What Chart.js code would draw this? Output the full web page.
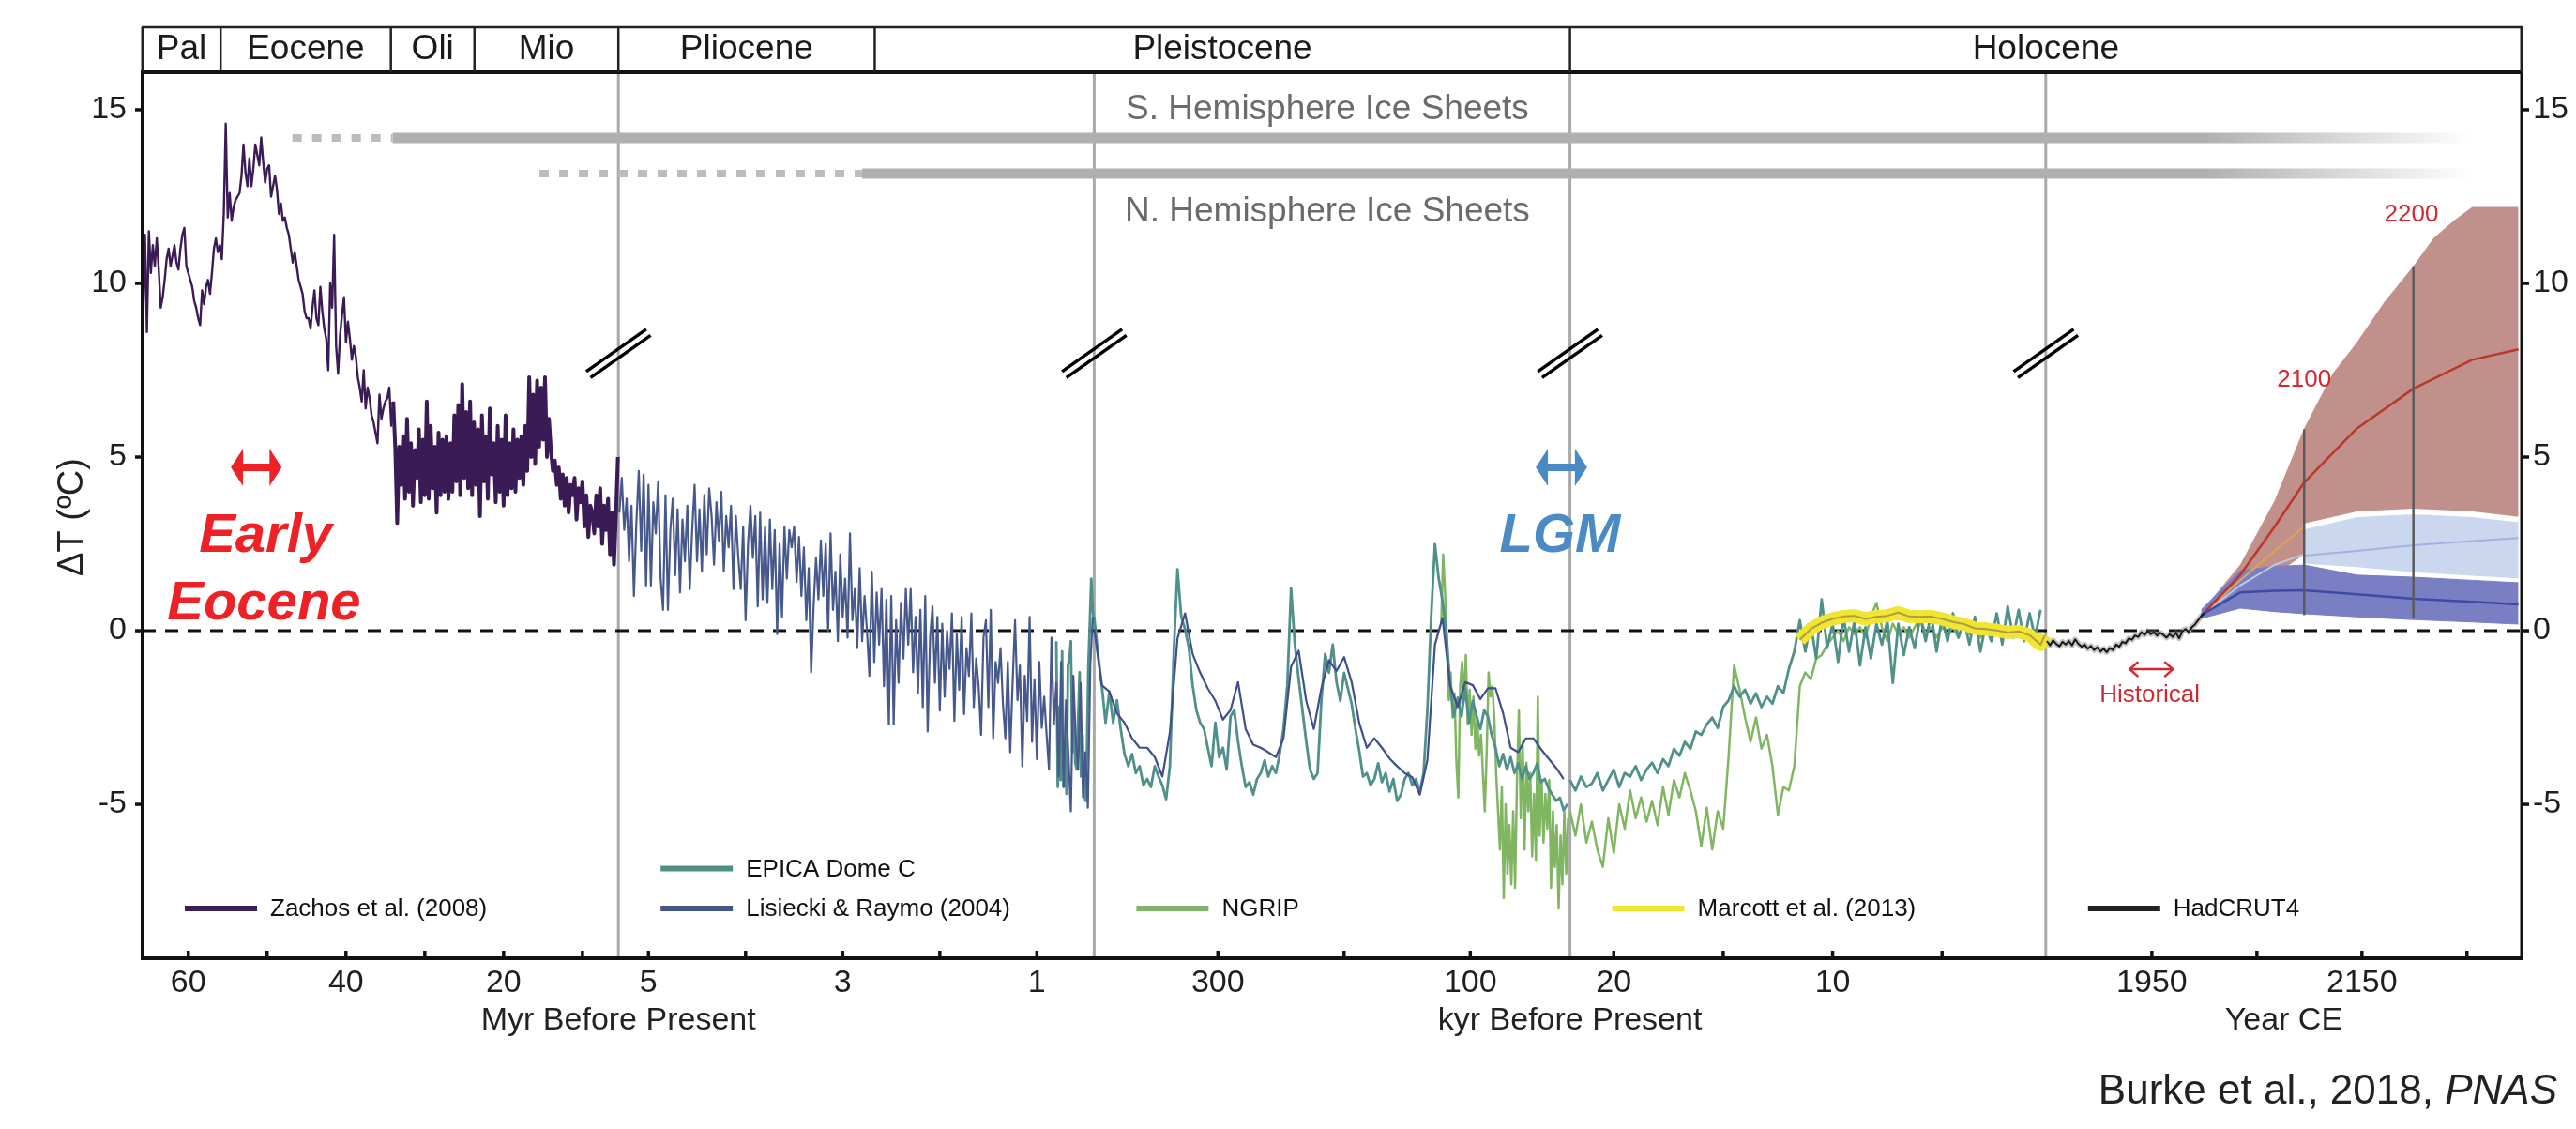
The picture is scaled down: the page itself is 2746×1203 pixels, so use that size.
<!DOCTYPE html>
<html>
<head>
<meta charset="utf-8">
<script src="https://cdn.jsdelivr.net/npm/chart.js@4.4.0/dist/chart.umd.min.js"></script>
<style>
  html, body { margin: 0; padding: 0; background: #fff; }
  #chart { display: block; }
</style>
</head>
<body>
<canvas id="chart" width="2746" height="1203"></canvas>
<script>
const FONT = "'Liberation Sans', Arial, Helvetica, sans-serif";

// each panel has its own native unit: Myr, Myr, kyr, kyr, year CE  ([left, right])
const panelRanges = [ [ 65.8, 5.44 ], [ 5.31, 0.41 ], [ 398, 21 ], [ 22, 0.26 ], [ 1849, 2302 ] ];

const majorTicks = [ [ 0, 60 ], [ 0, 40 ], [ 0, 20 ], [ 1, 5 ], [ 1, 3 ], [ 1, 1 ], [ 2, 300 ], [ 2, 100 ], [ 3, 20 ], [ 3, 10 ], [ 4, 1950 ], [ 4, 2150 ] ];
const minorTicks = [ [ 0, 50 ], [ 0, 30 ], [ 0, 10 ], [ 1, 4 ], [ 1, 2 ], [ 2, 200 ], [ 3, 15 ], [ 3, 5 ], [ 4, 2050 ], [ 4, 2250 ] ];
const yTicks = [ -5, 0, 5, 10, 15 ];

const epochNames = [ "Pal", "Eocene", "Oli", "Mio", "Pliocene", "Pleistocene", "Holocene" ];
const epochEdges = [ [ 0, 65.8 ], [ 0, 55.9 ], [ 0, 34.3 ], [ 0, 23.7 ], [ 1, 5.31 ], [ 1, 2.67 ], [ 3, 22 ], [ 4, 2302 ] ];

const axisTitles = [ [ "Myr Before Present", 1 ], [ "kyr Before Present", 3 ], [ "Year CE", 4.5 ] ];

// Zachos et al. (2008), Myr, 65.75 -> 5.5 every 0.25
const zachosStart = 65.75, zachosStep = -0.25;
const zachosTemp = [
  9.0, 11.4, 8.6, 11.5, 10.3, 11.1, 10.5, 11.3, 10.4, 9.3, 9.6, 10.1,
  10.7, 11.0, 10.5, 10.8, 11.1, 10.6, 10.4, 11.0, 11.4, 11.6, 10.5, 10.3,
  10.1, 9.9, 9.5, 9.3, 9.0, 8.8, 9.8, 9.4, 9.9, 10.1, 9.7, 10.3,
  11.0, 11.3, 10.9, 11.1, 10.7, 12.0, 14.6, 11.9, 12.6, 11.8, 12.2, 12.4,
  12.5, 12.6, 13.1, 14.0, 13.2, 12.8, 13.6, 12.8, 13.3, 14.0, 13.7, 13.4,
  14.2, 13.5, 12.9, 13.3, 13.4, 12.5, 12.8, 13.1, 12.7, 12.0, 12.3, 11.8,
  11.9, 11.6, 11.4, 11.0, 10.6, 10.9, 10.5, 10.1, 9.9, 9.7, 9.2, 9.0,
  9.0, 8.7, 9.3, 9.8, 9.0, 8.8, 9.9, 9.2, 8.7, 8.4, 7.5, 10.0,
  9.3, 11.4, 8.2, 7.4, 8.5, 9.1, 9.6, 8.3, 8.9, 8.4, 7.8, 8.2,
  7.9, 7.3, 7.0, 6.6, 7.5, 6.4, 7.0, 6.7, 6.2, 6.0, 5.7, 5.4,
  6.8, 6.1, 6.4, 6.6, 6.7, 7.0, 5.9, 6.6, 5.3, 3.1, 5.3, 4.2,
  5.6, 3.8, 6.1, 4.0, 5.4, 3.6, 5.2, 4.4, 5.8, 3.7, 5.5, 3.9,
  6.6, 3.8, 5.9, 4.1, 5.3, 3.4, 5.7, 3.9, 5.5, 4.0, 5.6, 3.8,
  5.4, 4.0, 6.2, 4.3, 6.5, 3.9, 7.1, 4.4, 6.3, 4.1, 6.6, 3.9,
  6.0, 4.2, 5.8, 3.3, 6.2, 4.3, 5.6, 3.8, 6.4, 4.5, 5.4, 3.7,
  5.9, 4.0, 5.5, 3.6, 6.2, 3.9, 5.4, 4.1, 5.8, 4.0, 5.5, 4.4,
  5.6, 4.2, 5.9, 4.6, 7.3, 5.0, 6.8, 4.8, 7.2, 5.3, 7.0, 5.5,
  7.3, 5.0, 6.1, 5.2, 4.6, 4.9, 4.2, 4.7, 3.8, 4.5, 3.6, 4.4,
  3.4, 4.2, 3.9, 4.4, 3.2, 4.1, 3.7, 4.3, 3.0, 3.9, 2.7, 3.6,
  3.4, 2.8, 3.9, 3.0, 4.1, 2.5, 3.6, 2.9, 3.8, 2.2, 3.4, 1.9, 3.3, 5.0
];
const zachosDenseFrom = 34.0; // Myr: record drawn heavier (dense sampling) after this age

// Lisiecki & Raymo (2004), Myr 5.3 -> 0.425 every 0.025
const lr04MyrStart = 5.3, lr04MyrStep = -0.025;
const lr04MyrTemp = [
  3.4, 4.4, 2.9, 3.8, 2.0, 3.6, 1.0, 3.1, 4.6, 2.3, 4.5, 1.3,
  4.2, 1.3, 3.7, 2.8, 4.3, 1.5, 0.6, 3.9, 0.6, 2.9, 3.8, 1.6,
  3.5, 1.1, 3.2, 2.0, 3.6, 1.2, 2.9, 4.2, 2.0, 3.5, 1.7, 3.9,
  2.2, 4.1, 3.3, 1.9, 3.7, 2.6, 4.0, 1.7, 3.3, 2.4, 3.6, 1.2,
  3.3, 2.1, 1.2, 3.0, 0.3, 2.5, 3.6, 2.1, 3.3, 0.7, 3.4, 0.9,
  3.0, 0.8, 3.2, 1.2, 2.9, -0.1, 2.5, 0.4, 3.0, 1.5, 2.9, 2.4,
  3.0, 1.4, 2.7, 1.0, 2.4, 0.3, 1.8, -1.2, 0.7, 2.1, 0.9, 2.6,
  1.0, 2.5, 0.0, 2.8, 0.6, 1.7, -0.3, 2.2, 0.4, 1.5, -0.2, 2.8,
  0.3, 1.2, -0.5, 1.8, -0.3, 1.0, 0.0, -1.3, 1.7, -0.9, 1.1, -0.4,
  1.2, -1.6, 0.9, -2.7, 1.0, -2.7, 0.3, -1.5, 0.8, -0.8, 1.2, -0.4,
  1.2, -1.2, 0.4, -1.8, 0.6, -2.2, 1.0, -2.9, -0.2, 0.7, -1.5, 0.4,
  -2.3, 0.2, -1.9, 0.0, -1.1, 0.5, -2.6, -0.1, -1.7, 0.4, -2.4, -0.5,
  -1.3, 0.5, -2.2, -0.8, -1.6, -3.0, -0.2, 0.3, -2.2, 0.6, -3.1, -0.9,
  -1.5, -0.5, -2.1, -3.1, -0.9, -3.5, -1.5, 0.3, -2.0, -1.0, -3.9, -1.3,
  -2.6, 0.4, -3.2, -1.4, -3.7, -0.9, -2.8, -1.9, -3.0, -4.0, -0.2, -2.7,
  -1.5, -4.2, -0.9, -4.5, -2.0, -3.6, -5.2, -1.3, -3.1, -4.0, -1.5, -4.8,
  -3.5, -5.1, -1.0, 0.4
];

// Lisiecki & Raymo (2004), kyr 398 -> 26 every 6
const lr04KyrStart = 398, lr04KyrStep = -6;
const lr04KyrTemp = [
  0.05, -1.57, -1.75, -2.38, -2.65, -3.1, -3.37, -3.37, -3.64, -4.2, -2.92, -0.22,
  0.5, -0.67, -1.21, -1.66, -2.02, -2.56, -2.29, -1.48, -2.83, -3.28, -3.37, -3.5,
  -3.64, -3.1, -1.03, -0.58, -2.02, -2.83, -1.66, -0.85, -1.16, -0.76, -1.48, -2.65,
  -3.37, -3.1, -3.37, -3.68, -3.9, -4.1, -4.22, -4.72, -3.73, -0.4, 0.37, -1.57,
  -2.2, -1.48, -1.57, -1.97, -1.66, -1.66, -2.38, -3.37, -3.5, -3.1, -3.1, -3.41,
  -3.68, -3.95, -4.27
];

// EPICA Dome C: Myr 0.8 -> 0.41 every 0.015, kyr 398 -> 23 every 3, kyr 22 -> 0.5 every 0.25
const epicaMyrStart = 0.8, epicaMyrStep = -0.015;
const epicaMyrTemp = [
  -0.3, -4.5, -2.2, -4.3, -0.6, -4.5, -3.1, -4.7, -1.0, -0.8, -0.3, -3.5,
  -2.3, -3.8, -4.0, -2.5, -1.2, -4.2, -3.0, -4.6, -4.9, -3.5, -1.0, 0.2, 1.5, 0.6, 0.2
];
const epicaKyrStart = 398, epicaKyrStep = -3;
const epicaKyrTemp = [
  0.4, -0.67, -1.57, -2.65, -1.75, -2.65, -2.0, -2.83, -3.55, -3.9, -3.55, -4.1,
  -3.9, -4.45, -4.27, -4.5, -3.9, -4.2, -4.45, -4.85, -3.9, -0.67, 1.77, 0.4,
  0.05, -0.49, -1.57, -2.29, -2.65, -2.83, -3.37, -3.9, -2.65, -3.64, -3.37, -4.0,
  -2.47, -2.29, -3.19, -3.9, -4.5, -4.36, -4.72, -4.27, -4.1, -3.73, -4.2, -3.9,
  -4.1, -3.55, -2.83, -1.57, 1.22, -0.4, -1.39, -2.29, -3.19, -4.0, -4.27, -4.1,
  -2.02, -0.67, -1.21, -0.4, -1.48, -2.02, -1.21, -1.66, -2.11, -2.83, -3.46, -4.2,
  -4.1, -4.45, -4.27, -3.82, -4.36, -4.1, -4.63, -4.27, -4.9, -4.72, -4.27, -4.1,
  -4.45, -4.27, -4.63, -4.1, -2.29, 0.4, 2.49, 1.5, 0.86, -0.04, -1.57, -2.47,
  -1.93, -2.47, -1.66, -2.65, -2.02, -2.47, -2.83, -2.29, -2.47, -3.01, -3.37, -3.9,
  -3.55, -4.0, -3.64, -4.1, -3.82, -4.27, -3.9, -4.27, -4.1, -3.82, -4.36, -4.27,
  -4.54, -4.72, -4.9, -4.81, -5.17, -4.99
];
const epicaHoloStart = 22, epicaHoloStep = -0.25;
const epicaHoloTemp = [
  -4.3, -4.6, -4.2, -4.5, -4.4, -4.1, -4.6, -4.3, -4.0, -4.5, -4.1, -4.2,
  -3.9, -4.3, -4.0, -3.8, -4.1, -3.7, -3.9, -3.4, -3.6, -3.2, -3.4, -2.9,
  -3.0, -2.7, -2.5, -2.8, -2.2, -2.0, -1.6, -1.9, -1.7, -2.1, -1.8, -2.2,
  -1.9, -2.1, -1.6, -1.8, -1.1, -0.6, 0.3, -0.6, 0.2, -0.8, 0.9, -0.5,
  0.2, -0.9, 0.4, -0.6, 0.3, -1.0, 0.1, -0.8, 0.2, -0.4, 0.3, -1.5,
  0.2, -0.7, 0.1, -0.5, 0.4, -0.3, 0.5, -0.6, 0.4, -0.3, 0.5, -0.2,
  0.3, -0.4, 0.4, -0.6, 0.2, -0.3, 0.5, -0.4, 0.7, -0.2, 0.6, -0.3,
  0.5, -0.2, 0.6
];

// NGRIP: kyr 123 -> 22.5 every 1.5, kyr 22 -> 2 every 0.25
const ngripKyrStart = 123, ngripKyrStep = -1.5;
const ngripKyrTemp = [
  0.2, 2.2, 1.1, -0.2, -2.0, -1.2, -2.5, -1.8, -3.8, -4.8, -1.6, -0.9,
  -2.0, -0.7, -2.7, -1.7, -3.0, -1.9, -3.4, -2.5, -3.6, -3.0, -4.1, -5.2,
  -3.5, -1.2, -1.9, -1.6, -2.5, -4.1, -5.2, -6.3, -4.5, -7.7, -5.0, -7.0,
  -5.6, -7.3, -5.2, -7.4, -4.3, -2.3, -5.4, -3.2, -6.3, -3.8, -5.2, -4.1,
  -6.5, -4.7, -6.6, -1.9, -5.9, -4.3, -6.1, -4.7, -5.7, -4.3, -7.4, -5.2,
  -6.8, -5.6, -8.0, -5.9, -7.3, -5.2, -7.0, -5.4
];
const ngripHoloStart = 22, ngripHoloStep = -0.25;
const ngripHoloTemp = [
  -5.2, -5.9, -5.0, -6.1, -5.5, -6.3, -6.8, -5.4, -6.4, -5.0, -5.7, -4.6,
  -5.4, -4.8, -5.5, -4.9, -5.6, -4.5, -5.3, -4.3, -4.8, -4.1, -4.6, -5.2,
  -6.2, -5.1, -6.3, -5.2, -5.7, -3.6, -1.0, -1.7, -2.5, -3.2, -2.5, -3.4,
  -3.0, -3.9, -5.3, -4.5, -4.6, -3.9, -1.6, -1.2, -1.4, -0.8, -0.7, -0.4,
  -0.2, 0.0, -0.3, 0.1, -0.1, 0.1, -0.2, 0.4, 0.8, 0.1, -0.3, 0.2,
  -0.1, 0.1, -0.2, 0.1, 0.4, -0.1, 0.1, -0.2, 0.1, -0.1, 0.1, -0.2,
  0.2, -0.1, 0.3, -0.2, 0.1, -0.3, 0.1, -0.1, 0.1
];

// Marcott et al. (2013), kyr BP
const marcottAge = [ 11.5, 11, 10.5, 10, 9.5, 9, 8.5, 8, 7.5, 7, 6.5, 6, 5.5, 5, 4.5, 4, 3.5, 3, 2.5, 2, 1.5, 1, 0.5, 0.3 ];
const marcottTemp = [ -0.26, 0.05, 0.23, 0.34, 0.41, 0.43, 0.34, 0.40, 0.43, 0.52, 0.41, 0.40, 0.41, 0.34, 0.25, 0.19, 0.07, 0.05, 0.01, -0.05, -0.02, -0.13, -0.40, -0.13 ];

// HadCRUT4, 1850 -> 2000 every 3 years
const hadStart = 1850, hadStep = 3;
const hadTemp = [
  -0.30, -0.42, -0.28, -0.38, -0.45, -0.32, -0.40, -0.30, -0.42, -0.25, -0.38, -0.46,
  -0.40, -0.52, -0.44, -0.56, -0.48, -0.60, -0.52, -0.62, -0.50, -0.56, -0.40, -0.46,
  -0.32, -0.36, -0.22, -0.26, -0.14, -0.18, -0.04, -0.12, -0.02, -0.10, -0.05, -0.14,
  -0.06, -0.12, -0.20, -0.10, -0.18, -0.06, -0.22, -0.02, 0.05, -0.04, 0.10, 0.18,
  0.30, 0.42, 0.50
];

// projections (year CE)
const redYears = [ 1997, 2034, 2067, 2095, 2122, 2145, 2171, 2199, 2218, 2237, 2255, 2299 ];
const redUpper = [ 0.55, 1.9, 3.76, 5.83, 7.4, 8.3, 9.45, 10.5, 11.3, 11.8, 12.2, 12.2 ];
const redLower = [ 0.45, 1.0, 1.6, 2.2, 2.4, 2.6, 2.7, 2.8, 2.9, 2.95, 3.0, 3.1 ];
const projYears = [ 1997, 2034, 2067, 2095, 2145, 2199, 2255, 2299 ];
const redMedian = [ 0.43, 1.6, 3.0, 4.27, 5.82, 6.97, 7.8, 8.1 ];
const darkUpper = [ 0.6, 1.73, 1.85, 1.89, 1.6, 1.54, 1.45, 1.38 ];
const darkLower = [ 0.35, 0.65, 0.55, 0.49, 0.4, 0.32, 0.25, 0.19 ];
const darkMedian = [ 0.45, 1.1, 1.15, 1.16, 1.05, 0.92, 0.83, 0.76 ];
const lightYears = [ 2095, 2145, 2199, 2255, 2299 ];
const lightUpper = [ 3.0, 3.35, 3.43, 3.35, 3.2 ];
const lightLower = [ 1.85, 1.75, 1.6, 1.5, 1.43 ];
const lightMedian = [ 2.16, 2.3, 2.46, 2.58, 2.67 ];
const wedgeYears = [ 1997, 2034, 2067, 2095 ];
const wedgeOrange = [ 0.45, 1.45, 2.3, 3.0 ];
const wedgePale = [ 0.45, 1.3, 1.9, 2.2 ];
const markYears = [ 2095, 2199 ];
const markLow = [ 0.45, 0.35 ];
const markHigh = [ 5.8, 10.5 ];

// ice sheet bars: [S, N]
const iceLevels = [ 14.19, 13.16 ];
const iceDotStart = [ [ 0, 46.8 ], [ 0, 15.46 ] ];
const iceSolidStart = [ [ 0, 34.07 ], [ 1, 2.8 ] ];
const iceFadeYears = [ 1999, 2256 ];
const iceGrey = "#b0b0b0";

const legendItems = [
  [ "Zachos et al. (2008)", "#3d1d57", 0, -8.0 ],
  [ "EPICA Dome C", "#4e8f88", 1, -6.85 ],
  [ "Lisiecki & Raymo (2004)", "#44578d", 1, -8.0 ],
  [ "NGRIP", "#7fb566", 2, -8.0 ],
  [ "Marcott et al. (2013)", "#f2e52f", 3, -8.0 ],
  [ "HadCRUT4", "#222222", 4, -8.0 ]
];

function toX ( panel, v ) {
  const [ a, b ] = panelRanges[ panel ];
  return panel + ( v - a ) / ( b - a );
}
function series ( panel, start, step, values ) {
  return values.map( ( y, i ) => ( { x: toX( panel, start + step * i ), y } ) );
}
function pairs ( panel, xs, ys ) {
  return xs.map( ( v, i ) => ( { x: toX( panel, v ), y: ys[ i ] } ) );
}
function lineSet ( label, data, color, width, order, extra ) {
  return Object.assign( {
    label, data, borderColor: color, backgroundColor: color, borderWidth: width,
    pointRadius: 0, fill: false, tension: 0, order, borderJoinStyle: "round"
  }, extra || {} );
}
function iceGradient ( context ) {
  const chart = context.chart;
  const xs = chart.scales.x;
  if ( !chart.chartArea || !xs ) return iceGrey;
  const g = chart.ctx.createLinearGradient(
    xs.getPixelForValue( toX( 4, iceFadeYears[ 0 ] ) ), 0,
    xs.getPixelForValue( toX( 4, iceFadeYears[ 1 ] ) ), 0 );
  g.addColorStop( 0, iceGrey );
  g.addColorStop( 1, "rgba(176,176,176,0)" );
  return g;
}

const datasets = [];
iceLevels.forEach( ( lvl, i ) => {
  const s = toX( ...iceSolidStart[ i ] );
  datasets.push( lineSet( "ice dotted " + i, [ { x: toX( ...iceDotStart[ i ] ), y: lvl }, { x: s, y: lvl } ], "#bcbcbc", 8, 30,
    { borderDash: [ 10, 11 ], borderCapStyle: "butt" } ) );
  datasets.push( lineSet( "ice " + i, [ { x: s, y: lvl }, { x: toX( 4, iceFadeYears[ 1 ] ), y: lvl } ], iceGradient, 11, 30,
    { borderCapStyle: "butt" } ) );
} );

// projection bands (upper fills to the next dataset)
datasets.push( lineSet( "red upper", pairs( 4, redYears, redUpper ), "#c2908b", 0, 22, { fill: "+1", backgroundColor: "#c2908b" } ) );
datasets.push( lineSet( "red lower", pairs( 4, redYears, redLower ), "#c2908b", 0, 21 ) );
datasets.push( lineSet( "light upper", pairs( 4, lightYears, lightUpper ), "#ffffff", 6, 20, { fill: "+1", backgroundColor: "#cad7ee" } ) );
datasets.push( lineSet( "light lower", pairs( 4, lightYears, lightLower ), "#ffffff", 6, 19 ) );
datasets.push( lineSet( "dark upper", pairs( 4, projYears, darkUpper ), "#7a7ec3", 1, 18, { fill: "+1", backgroundColor: "#7a7ec3" } ) );
datasets.push( lineSet( "dark lower", pairs( 4, projYears, darkLower ), "#7a7ec3", 1, 17 ) );
datasets.push( lineSet( "wedge orange", pairs( 4, wedgeYears, wedgeOrange ), "#e4a24f", 2, 16 ) );
datasets.push( lineSet( "wedge pale", pairs( 4, wedgeYears, wedgePale ), "#b9c9e8", 2, 16 ) );
datasets.push( lineSet( "light median", pairs( 4, lightYears, lightMedian ), "#a4b3dd", 2, 15 ) );
datasets.push( lineSet( "dark median", pairs( 4, projYears, darkMedian ), "#3f4aa6", 2.5, 15 ) );
datasets.push( lineSet( "red median", pairs( 4, projYears, redMedian ), "#b8392c", 2.5, 15 ) );
markYears.forEach( ( yr, i ) => {
  datasets.push( lineSet( "mark " + i, pairs( 4, [ yr, yr ], [ markLow[ i ], markHigh[ i ] ] ), "#5a5a5a", 2.5, 14 ) );
} );

// paleo records
datasets.push( lineSet( "NGRIP", series( 2, ngripKyrStart, ngripKyrStep, ngripKyrTemp ), "#80b662", 2.5, 12 ) );
datasets.push( lineSet( "NGRIP holo", series( 3, ngripHoloStart, ngripHoloStep, ngripHoloTemp ), "#80b662", 2.5, 12 ) );
datasets.push( lineSet( "EPICA myr", series( 1, epicaMyrStart, epicaMyrStep, epicaMyrTemp ), "#50908a", 2.8, 11 ) );
datasets.push( lineSet( "EPICA", series( 2, epicaKyrStart, epicaKyrStep, epicaKyrTemp ), "#50908a", 2.8, 11 ) );
datasets.push( lineSet( "EPICA holo", series( 3, epicaHoloStart, epicaHoloStep, epicaHoloTemp ), "#50908a", 2.8, 11 ) );
datasets.push( lineSet( "LR04 myr", series( 1, lr04MyrStart, lr04MyrStep, lr04MyrTemp ), "#46588c", 2.2, 10 ) );
datasets.push( lineSet( "LR04", series( 2, lr04KyrStart, lr04KyrStep, lr04KyrTemp ), "#3e4e8e", 2.2, 9 ) );
datasets.push( lineSet( "Zachos", series( 0, zachosStart, zachosStep, zachosTemp ), "#3b1b55", 2.4, 10, {
  segment: { borderWidth: c => ( c.p0.parsed.x >= toX( 0, zachosDenseFrom ) ? 4 : 2.4 ) }
} ) );
datasets.push( lineSet( "Marcott band", pairs( 3, marcottAge, marcottTemp ), "#f2e531", 14, 8 ) );
datasets.push( lineSet( "Marcott", pairs( 3, marcottAge, marcottTemp ), "#a89f45", 2, 7 ) );
datasets.push( lineSet( "HadCRUT halo", series( 4, hadStart, hadStep, hadTemp ), "rgba(110,110,110,0.4)", 6, 8 ) );
datasets.push( lineSet( "HadCRUT4", series( 4, hadStart, hadStep, hadTemp ), "#161616", 2, 7 ) );

function strokeLine ( ctx, x1, y1, x2, y2 ) {
  ctx.beginPath(); ctx.moveTo( x1, y1 ); ctx.lineTo( x2, y2 ); ctx.stroke();
}
function fatArrow ( ctx, x1, x2, yy, color ) {
  const head = 13, half = 20, shaft = 4;
  ctx.fillStyle = color;
  ctx.beginPath();
  ctx.moveTo( x1, yy ); ctx.lineTo( x1 + head, yy - half ); ctx.lineTo( x1 + head, yy - shaft );
  ctx.lineTo( x2 - head, yy - shaft ); ctx.lineTo( x2 - head, yy - half ); ctx.lineTo( x2, yy );
  ctx.lineTo( x2 - head, yy + half ); ctx.lineTo( x2 - head, yy + shaft ); ctx.lineTo( x1 + head, yy + shaft );
  ctx.lineTo( x1 + head, yy + half ); ctx.closePath(); ctx.fill();
}
function thinArrow ( ctx, x1, x2, yy, color ) {
  ctx.strokeStyle = color; ctx.lineWidth = 2.5;
  strokeLine( ctx, x1, yy, x2, yy );
  ctx.beginPath();
  ctx.moveTo( x1 + 9, yy - 8 ); ctx.lineTo( x1, yy ); ctx.lineTo( x1 + 9, yy + 8 );
  ctx.moveTo( x2 - 9, yy - 8 ); ctx.lineTo( x2, yy ); ctx.lineTo( x2 - 9, yy + 8 );
  ctx.stroke();
}

const decor = {
  id: "decor",
  beforeDatasetsDraw ( chart ) {
    const { ctx, chartArea: a, scales: { x, y } } = chart;
    ctx.save();
    ctx.strokeStyle = "#a9a9a9"; ctx.lineWidth = 3;
    [ 1, 2, 3, 4 ].forEach( p => { const px = x.getPixelForValue( p ); strokeLine( ctx, px, a.top, px, a.bottom ); } );
    ctx.setLineDash( [ 14, 10 ] ); ctx.strokeStyle = "#111"; ctx.lineWidth = 3;
    const y0 = y.getPixelForValue( 0 );
    strokeLine( ctx, a.left, y0, a.right, y0 );
    ctx.restore();
  },
  afterDraw ( chart ) {
    const { ctx, chartArea: a, scales: { x, y } } = chart;
    ctx.save();

    // break marks at panel joins
    ctx.strokeStyle = "#000"; ctx.lineWidth = 3.5;
    const by = y.getPixelForValue( 7.97 );
    [ 1, 2, 3, 4 ].forEach( p => {
      const px = x.getPixelForValue( p );
      [ -1, 1 ].forEach( s => strokeLine( ctx, px - 32 + s * 2.3, by + 22 + s * 3.2, px + 32 + s * 2.3, by - 23 + s * 3.2 ) );
    } );

    // frame
    ctx.strokeStyle = "#111";
    ctx.lineWidth = 4; strokeLine( ctx, a.left, a.top - 2, a.left, a.bottom + 2 );
    strokeLine( ctx, a.left - 2, a.bottom, a.right + 2, a.bottom );
    strokeLine( ctx, a.left, a.top, a.right, a.top );
    ctx.lineWidth = 3; strokeLine( ctx, a.right, a.top, a.right, a.bottom );

    // ticks
    ctx.lineWidth = 3.5;
    majorTicks.concat( minorTicks ).forEach( ( [ p, v ] ) => {
      const px = x.getPixelForValue( toX( p, v ) );
      strokeLine( ctx, px, a.bottom, px, a.bottom - 8 );
    } );
    yTicks.forEach( v => {
      const py = y.getPixelForValue( v );
      strokeLine( ctx, a.left - 8, py, a.left, py );
      strokeLine( ctx, a.right, py, a.right + 8, py );
    } );

    // epoch header
    const hTop = 29;
    ctx.strokeStyle = "#222"; ctx.lineWidth = 2.5;
    strokeLine( ctx, a.left - 1, hTop, a.right + 1, hTop );
    const ex = epochEdges.map( e => x.getPixelForValue( toX( e[ 0 ], e[ 1 ] ) ) );
    ex.forEach( ( px, i ) => {
      ctx.lineWidth = ( i === 0 || i === ex.length - 1 ) ? 3 : 2.5;
      strokeLine( ctx, px, hTop, px, a.top );
    } );
    ctx.fillStyle = "#1a1a1a"; ctx.font = "37px " + FONT; ctx.textAlign = "center"; ctx.textBaseline = "alphabetic";
    epochNames.forEach( ( n, i ) => ctx.fillText( n, ( ex[ i ] + ex[ i + 1 ] ) / 2, 63 ) );

    // axis titles
    ctx.font = "34px " + FONT; ctx.fillStyle = "#222";
    axisTitles.forEach( ( [ t, pos ] ) => ctx.fillText( t, x.getPixelForValue( pos ), 1097 ) );
    ctx.save();
    ctx.translate( 88, ( a.top + a.bottom ) / 2 + 2 ); ctx.rotate( -Math.PI / 2 );
    ctx.font = "38px " + FONT; ctx.fillText( "\u0394T (\u00baC)", 0, 0 );
    ctx.restore();

    // ice sheet labels
    ctx.fillStyle = "#6b6b6b"; ctx.font = "37px " + FONT;
    ctx.fillText( "S. Hemisphere Ice Sheets", x.getPixelForValue( 2.49 ), y.getPixelForValue( 14.73 ) );
    ctx.fillText( "N. Hemisphere Ice Sheets", x.getPixelForValue( 2.49 ), y.getPixelForValue( 11.78 ) );

    // Early Eocene / LGM
    const ay = y.getPixelForValue( 4.7 );
    fatArrow( ctx, x.getPixelForValue( toX( 0, 54.6 ) ), x.getPixelForValue( toX( 0, 48.15 ) ), ay, "#ee2226" );
    fatArrow( ctx, x.getPixelForValue( 2.928 ), x.getPixelForValue( 3.036 ), ay, "#4a8bc5" );
    ctx.font = "italic bold 58px " + FONT; ctx.fillStyle = "#ee2226";
    ctx.fillText( "Early", x.getPixelForValue( toX( 0, 50.2 ) ), y.getPixelForValue( 2.27 ) );
    ctx.fillText( "Eocene", x.getPixelForValue( toX( 0, 50.4 ) ), y.getPixelForValue( 0.32 ) );
    ctx.fillStyle = "#4a8bc5";
    ctx.fillText( "LGM", x.getPixelForValue( 2.979 ), y.getPixelForValue( 2.27 ) );

    // projection labels
    thinArrow( ctx, x.getPixelForValue( toX( 4, 1929 ) ), x.getPixelForValue( toX( 4, 1970 ) ), y.getPixelForValue( -1.11 ), "#d02a30" );
    ctx.font = "26px " + FONT; ctx.fillStyle = "#d02a30";
    ctx.fillText( "Historical", x.getPixelForValue( toX( 4, 1948 ) ), y.getPixelForValue( -2.05 ) );
    ctx.fillText( "2100", x.getPixelForValue( toX( 4, 2095 ) ), y.getPixelForValue( 7.03 ) );
    ctx.fillText( "2200", x.getPixelForValue( toX( 4, 2197 ) ), y.getPixelForValue( 11.78 ) );

    // legend
    ctx.font = "26px " + FONT; ctx.textAlign = "left"; ctx.textBaseline = "middle";
    legendItems.forEach( ( [ label, color, panel, yv ] ) => {
      const lx = x.getPixelForValue( panel ) + 45;
      const ly = y.getPixelForValue( yv );
      ctx.strokeStyle = color; ctx.lineWidth = 6;
      strokeLine( ctx, lx, ly, lx + 77, ly );
      ctx.fillStyle = "#111";
      ctx.fillText( label, lx + 91, ly + 1 );
    } );

    // citation
    ctx.textBaseline = "alphabetic"; ctx.textAlign = "right"; ctx.fillStyle = "#222";
    ctx.font = "italic 44px " + FONT;
    ctx.fillText( "PNAS", 2726, 1176 );
    const w = ctx.measureText( "PNAS" ).width;
    ctx.font = "44px " + FONT;
    ctx.fillText( "Burke et al., 2018, ", 2726 - w, 1176 );
    ctx.restore();
  }
};

const ctx = document.getElementById( "chart" ).getContext( "2d" );
new Chart( ctx, {
  type: "line",
  data: { datasets },
  options: {
    responsive: false,
    devicePixelRatio: 1,
    animation: false,
    events: [],
    layout: { padding: { top: 77, left: 0, right: 0, bottom: 0 } },
    plugins: { legend: { display: false }, tooltip: { enabled: false } },
    scales: {
      x: {
        type: "linear", min: 0, max: 5,
        grid: { display: false, drawTicks: false }, border: { display: false },
        afterBuildTicks: s => { s.ticks = majorTicks.map( ( [ p, v ] ) => ( { value: toX( p, v ) } ) ); },
        afterFit: s => { s.height = 182; },
        ticks: {
          autoSkip: false, maxRotation: 0, padding: 6, color: "#1e1e1e",
          font: { family: FONT, size: 34 },
          callback: ( v, i ) => majorTicks[ i ] ? String( majorTicks[ i ][ 1 ] ) : ""
        }
      },
      y: {
        position: "left", min: -9.43, max: 16.08,
        grid: { display: false, drawTicks: false }, border: { display: false },
        afterBuildTicks: s => { s.ticks = yTicks.map( v => ( { value: v } ) ); },
        afterFit: s => { s.width = 152; },
        ticks: { padding: 17, color: "#1e1e1e", font: { family: FONT, size: 34 }, callback: v => String( v ) }
      },
      y2: {
        position: "right", min: -9.43, max: 16.08,
        grid: { display: false, drawTicks: false }, border: { display: false },
        afterBuildTicks: s => { s.ticks = yTicks.map( v => ( { value: v } ) ); },
        afterFit: s => { s.width = 58; },
        ticks: { padding: 12, color: "#1e1e1e", font: { family: FONT, size: 34 }, callback: v => String( v ) }
      }
    }
  },
  plugins: [ decor ]
} );
</script>
</body>
</html>
